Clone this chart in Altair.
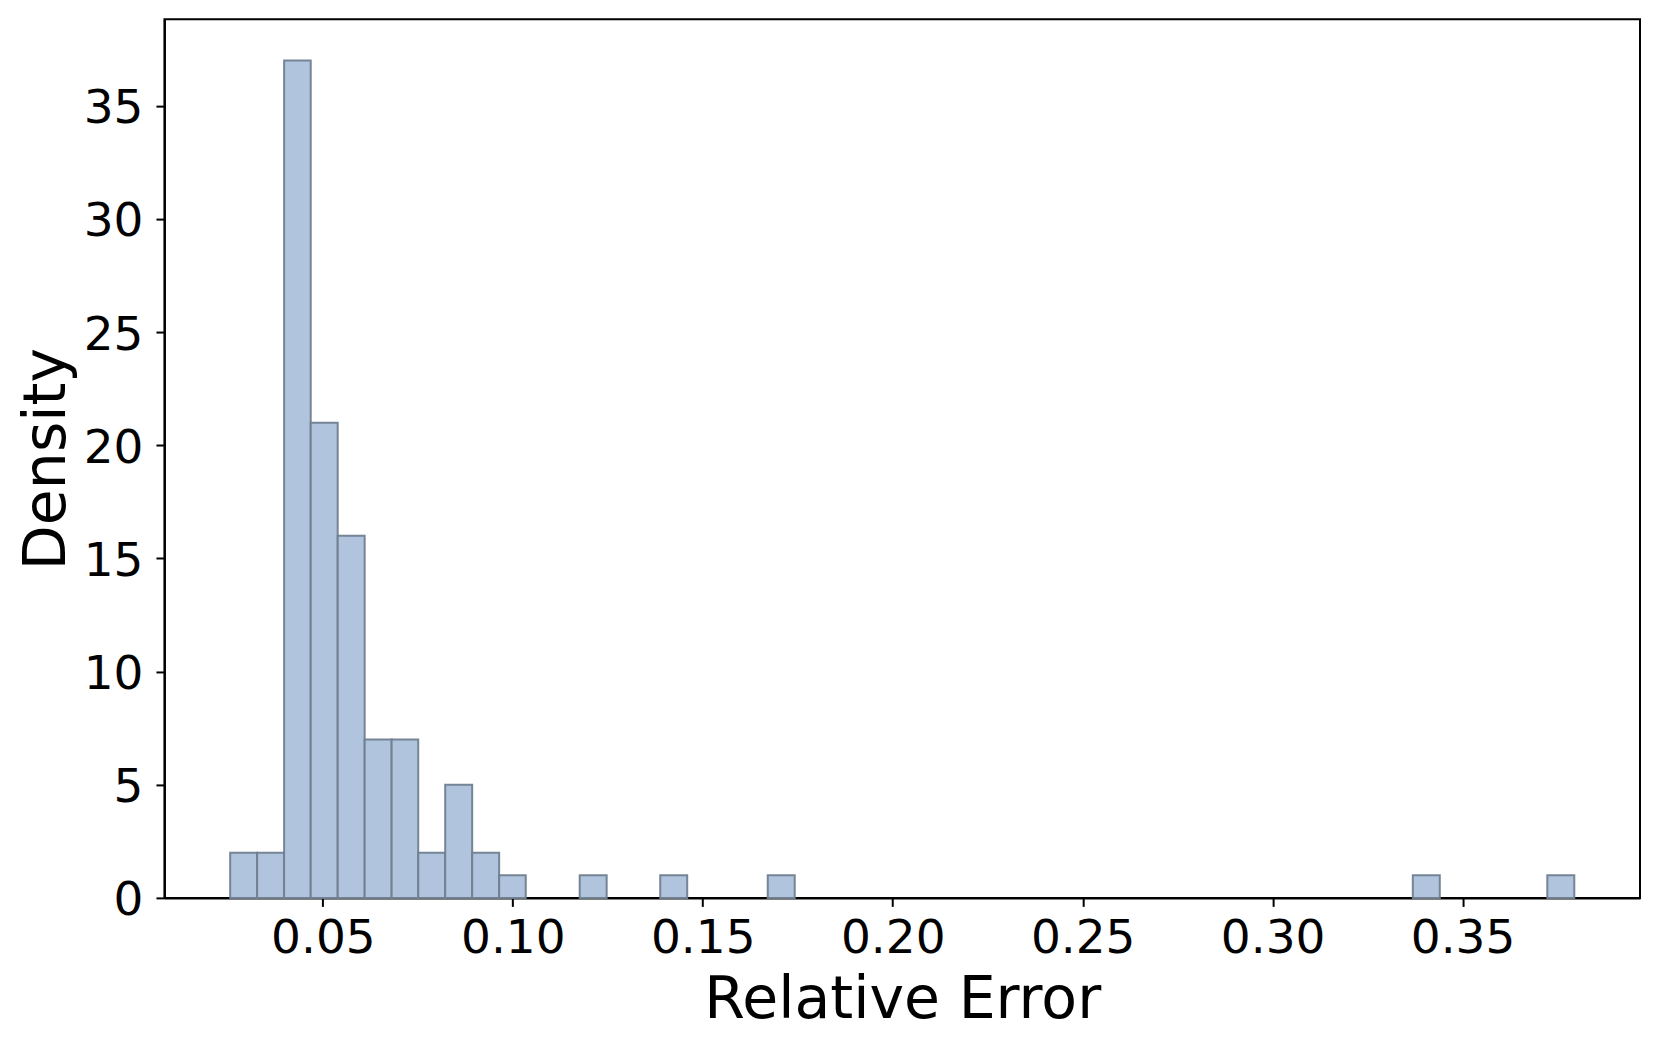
import altair as alt
import pandas as pd

# Histogram bins (left/right edges) with their density heights; empty bins omitted
bin_left = [0.0256, 0.0327, 0.0398, 0.0468, 0.0539, 0.0610, 0.0681, 0.0751,
            0.0822, 0.0893, 0.0964, 0.1176, 0.1388, 0.1671, 0.3369, 0.3723]
bin_right = [0.0327, 0.0398, 0.0468, 0.0539, 0.0610, 0.0681, 0.0751, 0.0822,
             0.0893, 0.0964, 0.1034, 0.1247, 0.1459, 0.1742, 0.3440, 0.3794]
density = [2, 2, 37, 21, 16, 7, 7, 2, 5, 2, 1, 1, 1, 1, 1, 1]

x_ticks = [0.05, 0.10, 0.15, 0.20, 0.25, 0.30, 0.35]
y_ticks = [0, 5, 10, 15, 20, 25, 30, 35]

df = pd.DataFrame({"lo": bin_left, "hi": bin_right, "d": density})

FONT = "DejaVu Sans"

chart = alt.Chart(df).mark_bar(
    fill="#B0C4DE", stroke="#708090", strokeWidth=2, strokeOpacity=0.95
).encode(
    x=alt.X("lo:Q",
            scale=alt.Scale(domain=[0.0083, 0.3967], nice=False, zero=False),
            axis=alt.Axis(values=x_ticks, format=".2f", title="Relative Error",
                          titleBaseline="alphabetic", titleY=120,
                          labelPadding=9, tickSize=8.5)),
    x2="hi:Q",
    y=alt.Y("d:Q",
            scale=alt.Scale(domain=[0, 38.83], nice=False),
            axis=alt.Axis(values=y_ticks, title="Density",
                          titleBaseline="alphabetic", titleX=-99.5, titleAngle=-90,
                          labelPadding=13, tickSize=8.5, labelOffset=3)),
    y2=alt.datum(0),
).properties(
    width=1476,
    height=879,
    autosize=alt.AutoSizeParams(type="none"),
    padding={"left": 156.5, "top": 11, "right": 12, "bottom": 140},
).configure_view(
    stroke="black", strokeWidth=2
).configure_axis(
    grid=False,
    domainColor="black", domainWidth=2,
    tickColor="black", tickWidth=2,
    labelFont=FONT, labelFontSize=47, labelColor="black",
    titleFont=FONT, titleFontSize=58.5, titleColor="black", titleFontWeight="normal",
    labelFlush=False, labelOverlap=False,
)

chart.save("out.html", embed_options={"renderer": "svg", "actions": False})
